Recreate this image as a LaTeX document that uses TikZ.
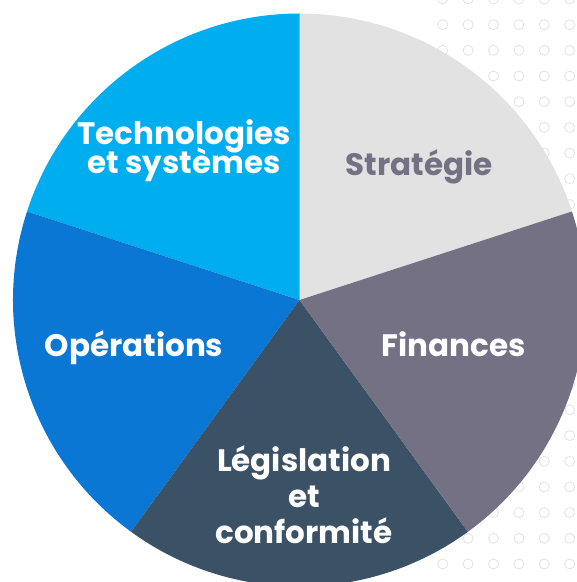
\documentclass[tikz,border=0pt]{standalone}
\usepackage{fontspec}
\setmainfont{Poppins}
\definecolor{cStrat}{HTML}{E2E2E2}
\definecolor{cFin}{HTML}{737183}
\definecolor{cLeg}{HTML}{3A5166}
\definecolor{cOps}{HTML}{0A77D5}
\definecolor{cTech}{HTML}{00AEEF}
\definecolor{cDot}{HTML}{E4E4E4}
\tikzset{
  lbl/.style={font=\fontsize{31}{31}\selectfont\bfseries, inner sep=0pt, anchor=base, text=white},
  dot/.style={draw=cDot, line width=0.9pt},
}
\begin{document}
\begin{tikzpicture}[x=1pt,y=1pt]
\useasboundingbox (0,0) rectangle (577,582);
% dot pattern
\foreach \j in {0,...,5}{
  \foreach \k in {0,...,22}{
    \draw[dot] ({442.7+\j*25.4},{582-(-1+\k*25.68)}) circle (5);
  }
}
\coordinate (c) at (299.5,282);
\def\R{286.5}
\fill[cStrat] (c) -- ++(18:\R) arc (18:90:\R) -- cycle;
\fill[cTech] (c) -- ++(90:\R) arc (90:162:\R) -- cycle;
\fill[cOps] (c) -- ++(162:\R) arc (162:234:\R) -- cycle;
\fill[cLeg] (c) -- ++(234:\R) arc (234:306:\R) -- cycle;
\fill[cFin] (c) -- ++(306:\R) arc (306:378:\R) -- cycle;
% labels
\node[lbl, text=cFin] (strat) at (419,406) {Stratégie};
\node[lbl] (fin) at (453.5,225) {Finances};
\node[lbl] (ops) at (134,225) {Opérations};
\node[lbl] (tech1) at (184,437) {Technologies};
\node[lbl] (tech2) at (184,408) {et systèmes};
\node[lbl] (leg1) at (304,110.3) {Législation};
\node[lbl] (leg2) at (304,74.7) {et};
\node[lbl] (leg3) at (304,38.7) {conformité};
\end{tikzpicture}
\end{document}
